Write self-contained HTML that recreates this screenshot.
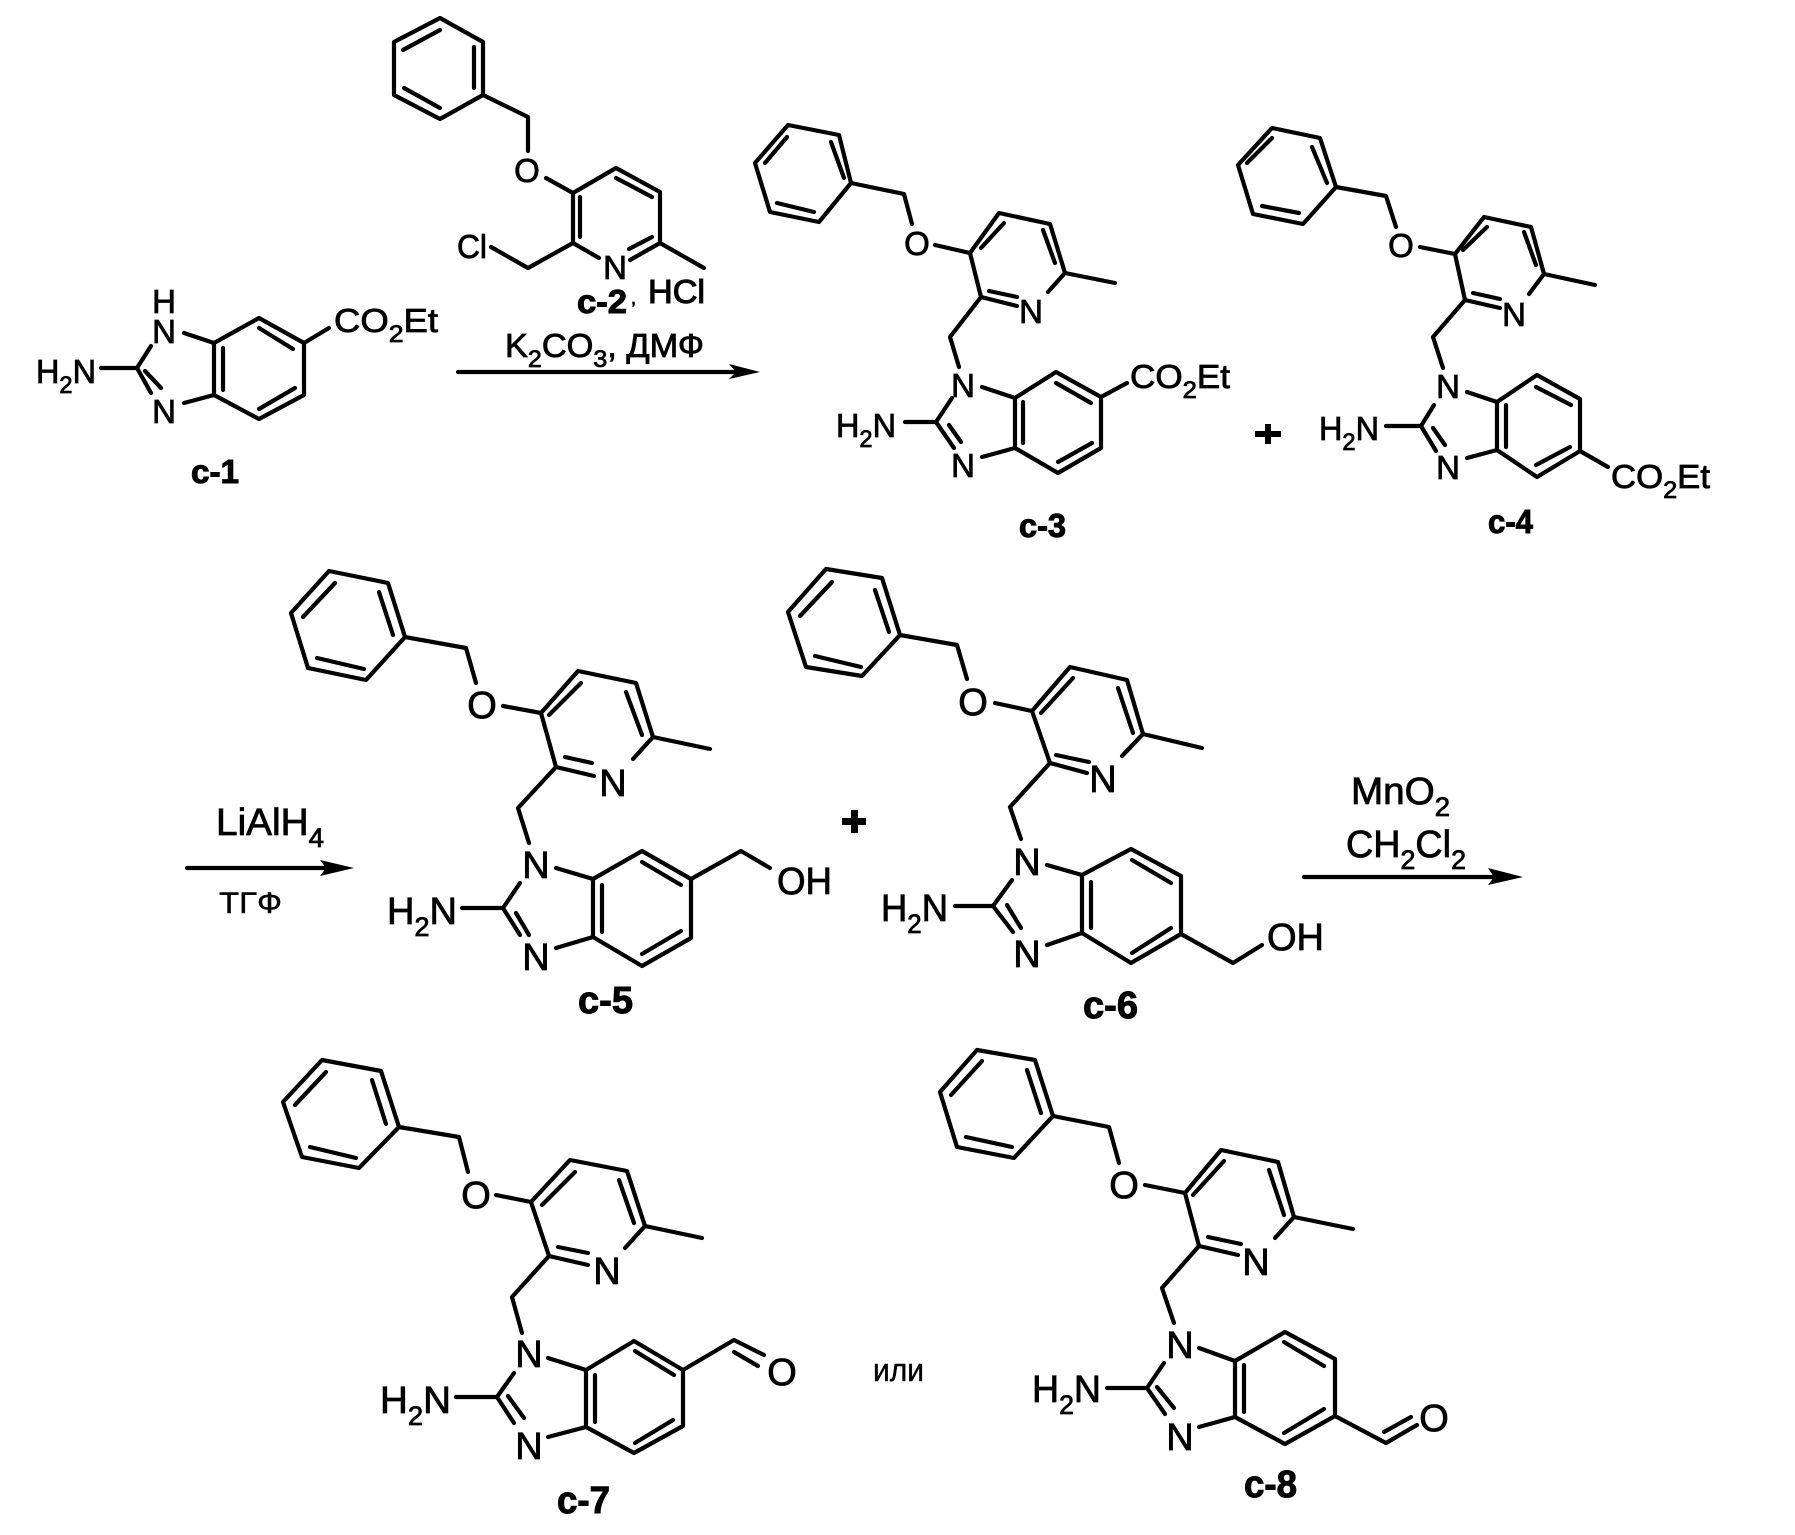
<!DOCTYPE html>
<html><head><meta charset="utf-8">
<style>
html,body{margin:0;padding:0;background:#fff}
svg{display:block}
text{font-family:"Liberation Sans",sans-serif;fill:#000;stroke:#000;stroke-width:.8}
.s{font-size:33px}.m{font-size:38px}.b{font-weight:bold;stroke-width:1}
.c{text-anchor:middle}
path{fill:none;stroke:#000;stroke-width:4.2;stroke-linecap:round;stroke-linejoin:round}
</style></head><body>
<svg width="1795" height="1535" viewBox="0 0 1795 1535" xmlns="http://www.w3.org/2000/svg">
<rect width="1795" height="1535" fill="#fff"/>

<!-- c-1 -->
<path d="M101 368H137L151 346M137 368L151 393M145 371L161 388M184 333L214 343L259 318L304 343V395L259 419L214 395L184 403M214 343V395M223 348V390M259 328L293 349M259 409L295 388M304 343L329 328"/>
<text class="s c" x="164" y="313">H</text>
<text class="s c" x="164" y="343">N</text>
<text class="s c" x="164" y="423">N</text>
<text class="s" x="36" y="383" textLength="60" lengthAdjust="spacingAndGlyphs">H<tspan font-size="24" dy="10">2</tspan><tspan dy="-10">N</tspan></text>
<text class="s" x="334" y="332" textLength="104" lengthAdjust="spacingAndGlyphs">CO<tspan font-size="24" dy="10">2</tspan><tspan dy="-10">Et</tspan></text>
<text class="s b" x="191" y="483" textLength="48" lengthAdjust="spacingAndGlyphs">c-1</text>

<!-- c-2 -->
<path d="M440 18L483 42V95L440 119L394 95V42ZM403 50L440 30M474 47V88M404 88L440 108M483 95L528 117V151M546 178L573 193L616 168L660 192V243L630 260M660 243L704 268M573 193V243L599 258M573 243L528 268L491 247M580 197V237M616 178L652 197M652 237L629 249"/>
<text class="s c" x="527" y="182">O</text>
<text class="s c" x="615" y="279">N</text>
<text class="s" x="457" y="258" textLength="30" lengthAdjust="spacingAndGlyphs">Cl</text>
<text class="s b" x="577" y="313" textLength="50" lengthAdjust="spacingAndGlyphs">c-2</text>
<text font-size="18" x="631" y="304">,</text>
<text class="s" x="648" y="303" textLength="57" lengthAdjust="spacingAndGlyphs" style="stroke-width:1.1">HCl</text>
<text class="s" x="505" y="357" textLength="199" lengthAdjust="spacingAndGlyphs">K<tspan font-size="24" dy="10">2</tspan><tspan dy="-10">CO</tspan><tspan font-size="24" dy="10">3</tspan><tspan dy="-10">, ДМФ</tspan></text>
<path d="M458 372H735"/>
<polygon points="760,372 729,364 736,372 729,379" fill="#000"/>

<!-- c-3 -->
<path d="M788 125L839 135L851 183L819 222L770 212L755 163ZM787 137L765 163M831 142L844 178M777 203L814 212M851 183L904 194L912 224M935 245L970 253L999 213L1050 224L1065 273L1048 292M1065 273L1115 283M970 253L981 297L1017 306M981 248L1004 223M1043 230L1055 263M989 291L1017 297M981 297L950 337L959 367M936 422L952 398M905 422H936L954 448M949 425L961 442M982 387L1015 398L1056 372L1101 397V448L1058 473L1015 448L982 457M1015 398V448M1023 402V443M1056 383L1091 403M1058 462L1092 443M1101 397L1127 383"/>
<text class="s c" x="917" y="255">O</text>
<text class="s c" x="1031" y="323">N</text>
<text class="s c" x="963" y="397">N</text>
<text class="s c" x="963" y="477">N</text>
<text class="s" x="836" y="437" textLength="60" lengthAdjust="spacingAndGlyphs">H<tspan font-size="24" dy="10">2</tspan><tspan dy="-10">N</tspan></text>
<text class="s" x="1130" y="388" textLength="100" lengthAdjust="spacingAndGlyphs">CO<tspan font-size="24" dy="10">2</tspan><tspan dy="-10">Et</tspan></text>
<text class="s b" x="1019" y="537" textLength="47" lengthAdjust="spacingAndGlyphs">c-3</text>

<!-- plus 1 -->
<polygon points="1265,424 1271,424 1271,431 1281,431 1281,437 1271,437 1271,444 1265,444 1265,437 1255,437 1255,431 1265,431" fill="#000"/>

<!-- c-4 -->
<path d="M1272 128L1320 138L1336 187L1303 224L1253 214L1238 165ZM1272 138L1247 163M1312 147L1327 183M1262 206L1299 213M1336 187L1386 196L1396 227M1420 247L1455 254L1484 217L1531 227L1544 274L1529 294M1544 274L1595 285M1455 254L1465 300L1500 308M1463 250L1487 227M1524 232L1536 265M1473 293L1500 299M1465 300L1433 337L1443 368M1421 426L1434 405M1386 426H1421L1436 451M1433 428L1445 445M1467 392L1497 402L1537 375L1580 399V451L1537 477L1497 450L1467 458M1497 402V450M1506 405V447M1536 387L1571 405M1536 465L1570 447M1580 451L1608 467"/>
<text class="s c" x="1401" y="257">O</text>
<text class="s c" x="1514" y="326">N</text>
<text class="s c" x="1448" y="398">N</text>
<text class="s c" x="1448" y="479">N</text>
<text class="s" x="1319" y="440" textLength="60" lengthAdjust="spacingAndGlyphs">H<tspan font-size="24" dy="10">2</tspan><tspan dy="-10">N</tspan></text>
<text class="s" x="1611" y="488" textLength="99" lengthAdjust="spacingAndGlyphs">CO<tspan font-size="24" dy="10">2</tspan><tspan dy="-10">Et</tspan></text>
<text class="s b" x="1488" y="533" textLength="45" lengthAdjust="spacingAndGlyphs">c-4</text>

<!-- LiAlH4 arrow -->
<text class="m" x="216" y="835" textLength="108" lengthAdjust="spacingAndGlyphs">LiAlH<tspan font-size="27" dy="12">4</tspan></text>
<path d="M187 868H325"/>
<polygon points="354,868 320,860 326,868 320,876" fill="#000"/>
<text x="219" y="913" font-size="30" textLength="63" lengthAdjust="spacingAndGlyphs" style="stroke-width:.4">ТГФ</text>

<!-- c-5 -->
<path d="M329 571L388 583L405 637L366 680L308 668L291 613ZM335 583L303 617M379 592L393 635M317 658L364 669M405 637L466 648L476 683M503 706L541 713L578 671L636 683L653 737L633 759M653 737L710 749M541 713L556 767L594 776M549 715L581 683M626 692L642 735M565 757L592 763M556 767L518 808L529 843M503 908L520 883M462 908H503L520 935M516 913L529 935M556 868L593 879L642 851L691 879V938L642 966L593 937L556 948M593 879V937M602 885V932M642 862L681 885M642 954L681 931M691 879L741 851L770 868"/>
<text class="m c" x="482" y="718">O</text>
<text class="m c" x="613" y="796">N</text>
<text class="m c" x="536" y="878">N</text>
<text class="m c" x="536" y="970">N</text>
<text class="m" x="387" y="924" textLength="70" lengthAdjust="spacingAndGlyphs">H<tspan font-size="27" dy="12">2</tspan><tspan dy="-12">N</tspan></text>
<text class="m" x="777" y="894" textLength="55" lengthAdjust="spacingAndGlyphs">OH</text>
<text class="m b" x="578" y="1013" textLength="55" lengthAdjust="spacingAndGlyphs">c-5</text>

<!-- plus 2 -->
<polygon points="851,810 858,810 858,818 866,818 866,825 858,825 858,833 851,833 851,825 842,825 842,818 851,818" fill="#000"/>

<!-- c-6 -->
<path d="M826 569L882 578L900 635L862 676L806 667L788 612ZM832 582L800 616M875 590L889 632M815 656L861 667M900 635L957 645L967 679M995 703L1032 711L1070 667L1127 680L1143 734L1122 756M1143 734L1202 748M1032 711L1050 763L1087 773M1041 713L1073 678M1118 688L1133 733M1056 755L1089 762M1050 763L1010 807L1021 839M993 906L1012 880M955 906H993L1013 932M1007 905L1021 928M1047 865L1082 875L1131 849L1181 876V934L1131 963L1082 933L1047 945M1082 875V933M1091 882V928M1132 860L1171 883M1132 953L1171 928M1181 934L1233 963L1262 945"/>
<text class="m c" x="973" y="715">O</text>
<text class="m c" x="1103" y="792">N</text>
<text class="m c" x="1027" y="875">N</text>
<text class="m c" x="1027" y="967">N</text>
<text class="m" x="881" y="921" textLength="67" lengthAdjust="spacingAndGlyphs">H<tspan font-size="27" dy="12">2</tspan><tspan dy="-12">N</tspan></text>
<text class="m" x="1267" y="950" textLength="57" lengthAdjust="spacingAndGlyphs">OH</text>
<text class="m b" x="1083" y="1018" textLength="55" lengthAdjust="spacingAndGlyphs">c-6</text>

<!-- MnO2 arrow -->
<text class="m" x="1351" y="804" textLength="99" lengthAdjust="spacingAndGlyphs">MnO<tspan font-size="27" dy="12">2</tspan></text>
<text class="m" x="1346" y="857" textLength="120" lengthAdjust="spacingAndGlyphs">CH<tspan font-size="27" dy="12">2</tspan><tspan dy="-12">Cl</tspan><tspan font-size="27" dy="12">2</tspan></text>
<path d="M1304 877H1495"/>
<polygon points="1523,877 1488,868 1494,877 1488,885" fill="#000"/>

<!-- c-7 -->
<path d="M322 1060L381 1071L399 1127L359 1168L302 1157L283 1102ZM326 1072L295 1105M372 1080L386 1124M310 1147L356 1158M399 1127L459 1137L468 1172M496 1195L531 1202L570 1160L627 1171L645 1226L625 1248M645 1226L702 1238M531 1202L549 1256L588 1265M542 1205L575 1172M619 1180L634 1223M558 1247L588 1253M549 1256L512 1297L522 1333M497 1397L514 1373M456 1397H497L514 1423M508 1396L524 1418M548 1358L586 1370L634 1341L683 1370V1426L634 1453L586 1427L548 1437M586 1370V1427M595 1375V1422M635 1351L674 1375M635 1443L673 1420M683 1370L734 1340L764 1355M734 1352L758 1366"/>
<text class="m c" x="476" y="1208">O</text>
<text class="m c" x="607" y="1284">N</text>
<text class="m c" x="529" y="1367">N</text>
<text class="m c" x="529" y="1459">N</text>
<text class="m c" x="782" y="1385">O</text>
<text class="m" x="380" y="1413" textLength="71" lengthAdjust="spacingAndGlyphs">H<tspan font-size="27" dy="12">2</tspan><tspan dy="-12">N</tspan></text>
<text class="m b" x="557" y="1513" textLength="53" lengthAdjust="spacingAndGlyphs">c-7</text>

<text x="873" y="1381" font-size="32" textLength="51" lengthAdjust="spacingAndGlyphs" style="stroke-width:.4">или</text>

<!-- c-8 -->
<path d="M977 1050L1035 1060L1053 1116L1014 1158L957 1147L940 1092ZM982 1061L951 1095M1027 1070L1041 1113M966 1137L1012 1147M1053 1116L1109 1127L1119 1163M1145 1185L1185 1193L1221 1150L1278 1162L1294 1217L1275 1238M1294 1217L1353 1229M1185 1193L1199 1246L1238 1255M1193 1195L1224 1161M1269 1170L1284 1215M1208 1237L1241 1244M1199 1246L1162 1288L1174 1323M1147 1388L1164 1363M1107 1388H1147L1165 1414M1157 1387L1174 1408M1199 1348L1235 1361L1285 1332L1335 1359V1416L1285 1444L1235 1417L1199 1427M1235 1361V1417M1244 1365V1412M1284 1342L1324 1366M1284 1433L1324 1409M1335 1416L1386 1443L1417 1425M1384 1432L1411 1417"/>
<text class="m c" x="1124" y="1198">O</text>
<text class="m c" x="1256" y="1275">N</text>
<text class="m c" x="1180" y="1358">N</text>
<text class="m c" x="1180" y="1450">N</text>
<text class="m c" x="1434" y="1431">O</text>
<text class="m" x="1032" y="1402" textLength="69" lengthAdjust="spacingAndGlyphs">H<tspan font-size="27" dy="12">2</tspan><tspan dy="-12">N</tspan></text>
<text class="m b" x="1244" y="1497" textLength="53" lengthAdjust="spacingAndGlyphs">c-8</text>
</svg>
</body></html>
